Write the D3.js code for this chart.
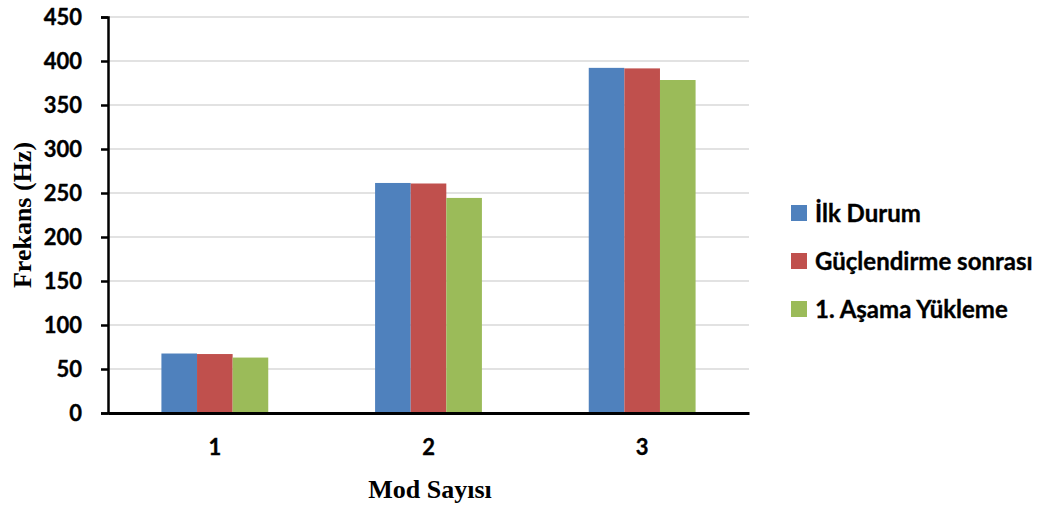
<!DOCTYPE html>
<html>
<head>
<meta charset="utf-8">
<script src="https://cdn.jsdelivr.net/npm/d3@7"></script>
<style>
  html, body { margin: 0; padding: 0; background: #fff; }
  svg { display: block; }
  .tick text { font-family: Lato, "Open Sans", sans-serif; font-weight: 700; stroke: #000; stroke-width: 0.35px; }
</style>
</head>
<body>
<svg id="chart" width="1056" height="506"></svg>
<script>
// Frequencies (Hz) per mode for each state
const categories = ["1", "2", "3"];
const seriesNames = ["İlk Durum", "Güçlendirme sonrası", "1. Aşama Yükleme"];
const ilkDurum = [67.6, 261.4, 392.2];
const guclendirmeSonrasi = [67.0, 260.8, 391.6];
const asamaYukleme = [63.0, 244.4, 378.4];
const yTicks = [0, 50, 100, 150, 200, 250, 300, 350, 400, 450];
const colors = ["#4f81bd", "#c0504d", "#9bbb59"];

const seriesValues = [ilkDurum, guclendirmeSonrasi, asamaYukleme];

const svg = d3.select("#chart");
const plot = { left: 108, right: 749, top: 17, bottom: 413 };

const x = d3.scaleBand().domain(categories).range([plot.left, plot.right]).paddingInner(0.5).paddingOuter(0.25);
const xs = d3.scaleBand().domain(seriesNames).range([0, x.bandwidth()]);
const y = d3.scaleLinear().domain([0, 450]).range([plot.bottom, plot.top]);

// gridlines
svg.append("g")
  .selectAll("line")
  .data(yTicks.filter(d => d > 0))
  .join("line")
  .attr("x1", plot.left).attr("x2", plot.right)
  .attr("y1", d => y(d)).attr("y2", d => y(d))
  .attr("stroke", "#d9d9d9").attr("stroke-width", 1.5);

// bars
const groups = svg.append("g")
  .selectAll("g")
  .data(seriesNames)
  .join("g")
  .attr("fill", (d, i) => colors[i]);

groups.selectAll("rect")
  .data((name, i) => categories.map((c, j) => ({ c, name, v: seriesValues[i][j] })))
  .join("rect")
  .attr("x", d => x(d.c) + xs(d.name))
  .attr("width", xs.bandwidth())
  .attr("y", d => y(d.v))
  .attr("height", d => y(0) - y(d.v));

// y axis
const yAxis = svg.append("g")
  .attr("transform", `translate(${plot.left},0)`)
  .call(d3.axisLeft(y).tickValues(yTicks).tickSize(7).tickPadding(19));
yAxis.select(".domain").attr("stroke", "#000").attr("stroke-width", 2.5);
yAxis.selectAll(".tick line").attr("stroke", "#000").attr("stroke-width", 2.5);
yAxis.selectAll(".tick text").attr("font-size", 22).attr("fill", "#000");

// x axis
const xAxis = svg.append("g")
  .attr("transform", `translate(0,${plot.bottom})`)
  .call(d3.axisBottom(x).tickSize(0).tickPadding(26));
xAxis.select(".domain").attr("stroke", "#000").attr("stroke-width", 3);
xAxis.selectAll(".tick text").attr("font-size", 22).attr("fill", "#000");

// axis titles
svg.append("text")
  .attr("transform", `translate(31,215) rotate(-90)`)
  .attr("text-anchor", "middle")
  .attr("font-family", "'Liberation Serif', 'Times New Roman', serif")
  .attr("font-weight", 700).attr("font-size", 26)
  .text("Frekans (Hz)");

svg.append("text")
  .attr("x", 430).attr("y", 498)
  .attr("text-anchor", "middle")
  .attr("font-family", "'Liberation Serif', 'Times New Roman', serif")
  .attr("font-weight", 700).attr("font-size", 26)
  .text("Mod Sayısı");

// legend
const legend = svg.append("g").attr("transform", "translate(791,213)");
const items = legend.selectAll("g")
  .data(seriesNames)
  .join("g")
  .attr("transform", (d, i) => `translate(0,${i * 48})`);
items.append("rect")
  .attr("x", 0).attr("y", -8).attr("width", 16).attr("height", 16)
  .attr("fill", (d, i) => colors[i]);
items.append("text")
  .attr("x", 24).attr("y", 0).attr("dy", "0.36em")
  .attr("font-family", "Lato, 'Open Sans', sans-serif")
  .attr("font-weight", 700).attr("font-size", 24)
  .attr("fill", "#000").attr("stroke", "#000").attr("stroke-width", 0.35)
  .text(d => d);
</script>
</body>
</html>
